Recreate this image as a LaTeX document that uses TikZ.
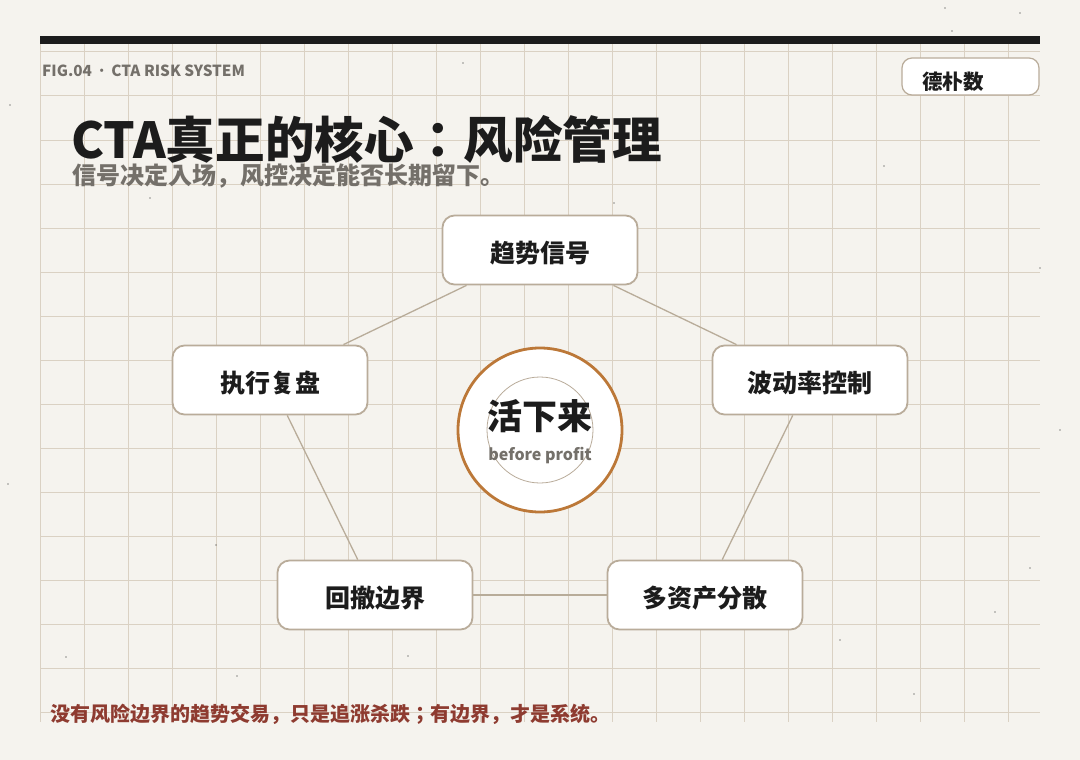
\documentclass[tikz,border=0pt]{standalone}
\usepackage{fontspec}
\setmainfont{Noto Sans CJK JP}
\usetikzlibrary{arrows.meta}

\definecolor{paper}{HTML}{F5F3EE}
\definecolor{gridline}{HTML}{DAD1C3}
\definecolor{ink}{HTML}{1C1C1C}
\definecolor{edgetan}{HTML}{B9AC9A}
\definecolor{linktan}{HTML}{B8AC99}
\definecolor{ring}{HTML}{BC7838}
\definecolor{muted}{HTML}{74706A}
\definecolor{rust}{HTML}{8E3B30}

\begin{document}
\begin{tikzpicture}[x=1pt, y=-1pt, >=Stealth,
    box/.style={draw=edgetan, line width=1.8pt, fill=white, rounded corners=12pt,
      minimum width=195pt, minimum height=69pt, inner sep=0pt,
      text height=25pt, text depth=0pt,
      font=\fontsize{25}{29}\selectfont\bfseries, text=ink},
    link/.style={draw=linktan, line width=1.3pt},
    txt/.style={inner sep=0pt, anchor=base west}]
  % Paper and grid
  \fill[paper] (0,0) rectangle (1080,760);
  \useasboundingbox (0,0) rectangle (1080,760);
  \foreach \x in {40,84,...,1008}
    \draw[gridline, line width=1pt] (\x,44) -- (\x,722);
  \foreach \y in {52,96,...,712}
    \draw[gridline, line width=1pt] (40,\y) -- (1040,\y);
  % Stray specks
  \foreach \px/\py in {945/8, 1020/13, 952/31, 10/105, 150/198, 463/63,
      614/203, 884/166, 1040/268, 216/545, 1030/568, 408/656, 66/657,
      237/676, 914/694, 8/484, 1060/430, 840/640, 995/612}
    \fill[ink] (\px,\py) circle (0.7pt);
  % Top rule
  \fill[ink] (40,36) rectangle (1040,44);
  % Heading
  \node[txt, text=muted, font=\fontsize{15.3}{18}\selectfont\bfseries] (fig) at (42,77) {FIG.04\hspace{5pt}·\hspace{5pt}CTA RISK SYSTEM};
  \node[txt, text=ink, font=\fontsize{49.6}{60}\selectfont\bfseries] (title) at (71,158) {CTA真正的核心：风险管理};
  \node[txt, text=muted, font=\fontsize{24}{28}\selectfont\bfseries] (subtitle) at (72,184) {信号决定入场，风控决定能否长期留下。};
  % Brand badge
  \draw[edgetan, line width=1.2pt, fill=white, rounded corners=10pt] (902,58) rectangle (1039,95);
  \node[txt, text=ink, font=\fontsize{20.5}{24}\selectfont\bfseries] (brand) at (922,90) {德朴数};
  % Core
  \node[circle, draw=ring, line width=2.8pt, fill=white, minimum size=164pt] (core) at (540,430) {};
  \node[circle, draw=edgetan, line width=0.8pt, minimum size=106pt] (inner) at (540,430) {};
  \node[inner sep=0pt, text=ink, font=\fontsize{35}{40}\selectfont\bfseries] (survive) at (540,416) {活下来};
  \node[inner sep=0pt, text=muted, font=\fontsize{16}{20}\selectfont\bfseries] (profit) at (540,456) {before profit};
  % Five pillars
  \node[box] (signal) at (540,250) {趋势信号};
  \node[box] (vol) at (810,380) {波动率控制};
  \node[box] (spread) at (705,595) {多资产分散};
  \node[box] (drawdown) at (375,595) {回撤边界};
  \node[box] (review) at (270,380) {执行复盘};
  \foreach \a/\b in {signal/vol, vol/spread, spread/drawdown, drawdown/review, review/signal}
    \draw[link] (\a) -- (\b);
  % Closing line
  \node[txt, text=rust, font=\fontsize{20}{24}\selectfont\bfseries] (closing) at (50,721) {没有风险边界的趋势交易，只是追涨杀跌；有边界，才是系统。};
\end{tikzpicture}
\end{document}
